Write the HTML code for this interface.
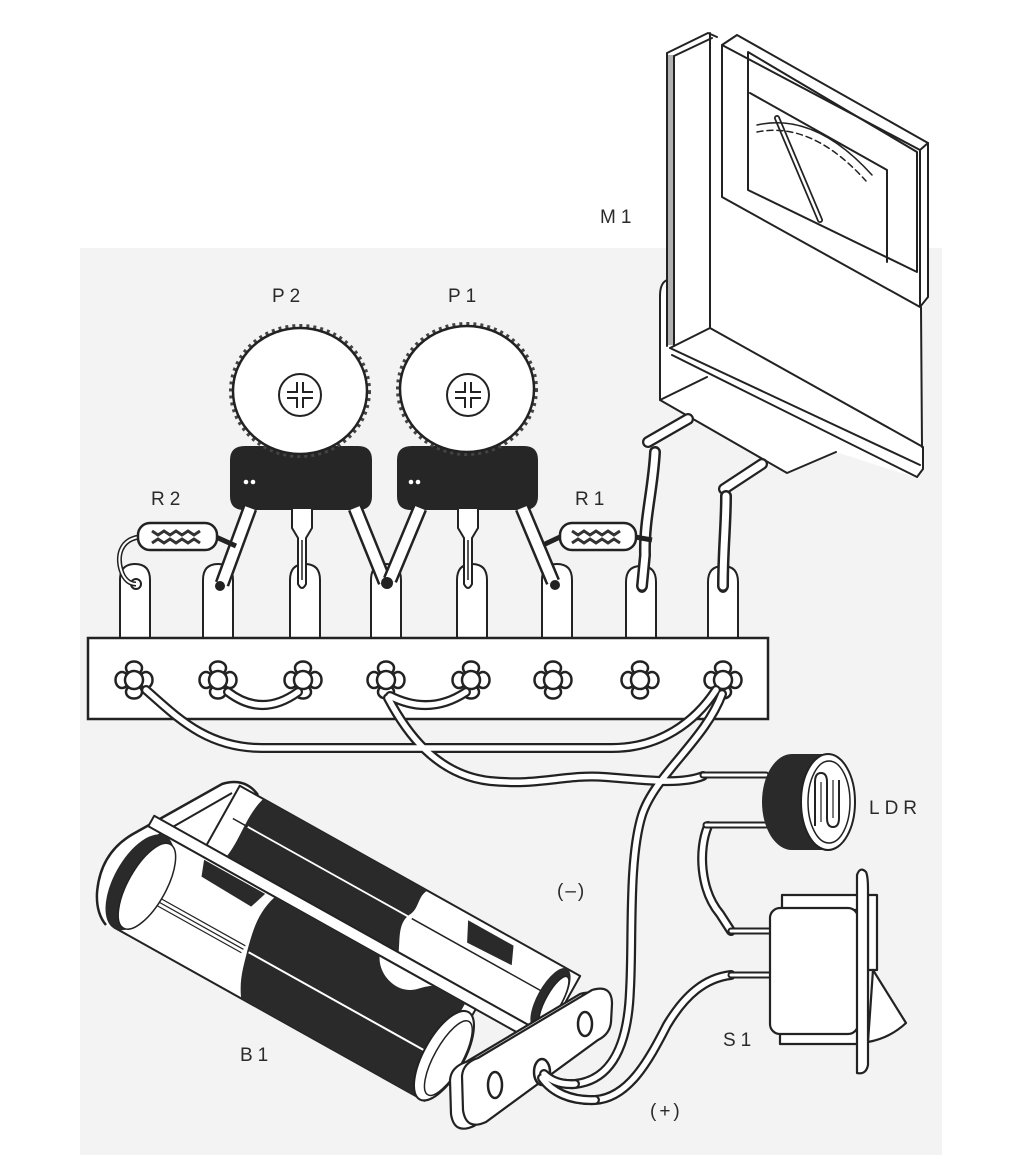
<!DOCTYPE html>
<html><head><meta charset="utf-8"><title>diagram</title>
<style>
html,body{margin:0;padding:0;background:#fff;width:1011px;height:1155px;overflow:hidden}
svg{display:block}
.lb{font-family:"Liberation Sans",sans-serif;font-size:19px;fill:#2a2a2a;letter-spacing:5px}
</style></head><body>
<svg width="1011" height="1155" viewBox="0 0 1011 1155" xmlns="http://www.w3.org/2000/svg">
<defs>
 <g id="term">
  <ellipse cx="0" cy="-12" rx="8" ry="6.5"/>
  <ellipse cx="0" cy="12" rx="8" ry="6.5"/>
  <ellipse cx="-12" cy="0" rx="6.5" ry="8"/>
  <ellipse cx="12" cy="0" rx="6.5" ry="8"/>
  <circle r="9"/>
 </g>
</defs>
<rect width="1011" height="1155" fill="#fff"/>
<rect x="80" y="248" width="862" height="907" fill="#f3f3f3"/>

<!-- METER M1 -->
<g stroke="#222" stroke-width="2" fill="none" stroke-linejoin="round" stroke-linecap="round">
 <path d="M667 53 L708 33 L737 35 L928 143 L928 300 L922 308 L923 470 L917 478 L836 452 L787 473 L660 400 L660 290 L667 280 Z" fill="#fff" stroke="none"/>
 <rect x="667" y="55" width="7" height="290" fill="#b0b0b0" stroke="none"/>
 <path d="M667 53 L667 346 M674 56 L674 346 M667 53 L708 33 L717 37 M674 56 L712 38 M710 33 L710 327"/>
 <path d="M722 45 L737 35 L928 143 L920 150 Z" fill="#fff"/>
 <path d="M722 45 L722 197 L920 307 L920 150 M928 143 L928 297 L920 307"/>
 <path d="M921 307 L922 447"/>
 <path d="M748 52 L917 152 L917 272 L748 190 Z"/>
 <path d="M750 93 L887 170 L887 262"/>
 <path d="M777 118 L820 220" stroke-width="6"/>
 <path d="M777 118 L820 220" stroke="#fff" stroke-width="2.5"/>
 <path d="M757 125 Q815 112 872 175" stroke-width="1.5"/>
 <path d="M757 132 Q812 121 866 181" stroke-width="1.5" stroke-dasharray="6 4"/>
 <path d="M670 348 L710 328 L923 447 L923 469 L917 477 M670 348 L920 465 M672 355 L917 477"/>
 <path d="M667 280 Q660 283 660 296 L660 400 L787 473 L836 452 M660 400 L707 377"/>
</g>
<!-- meter pins -->
<g fill="none" stroke-linecap="round">
 <path d="M648 442 L688 419" stroke="#222" stroke-width="12"/>
 <path d="M648 442 L688 419" stroke="#fff" stroke-width="7.5"/>
 <path d="M724 489 L762 464" stroke="#222" stroke-width="12"/>
 <path d="M724 489 L762 464" stroke="#fff" stroke-width="7.5"/>
</g>

<!-- LUGS -->
<g stroke="#222" stroke-width="2" fill="#fff">
 <path d="M120 640 L120 580 Q120 564 135 564 Q150 564 150 580 L150 640"/>
 <path d="M203 640 L203 580 Q203 564 218 564 Q233 564 233 580 L233 640"/>
 <path d="M290 640 L290 580 Q290 564 305 564 Q320 564 320 580 L320 640"/>
 <path d="M371 640 L371 580 Q371 564 386 564 Q401 564 401 580 L401 640"/>
 <path d="M457 640 L457 580 Q457 564 472 564 Q487 564 487 580 L487 640"/>
 <path d="M542 640 L542 580 Q542 564 557 564 Q572 564 572 580 L572 640"/>
 <path d="M626 640 L626 582 Q626 566 641 566 Q656 566 656 582 L656 640"/>
 <path d="M708 640 L708 582 Q708 566 723 566 Q738 566 738 582 L738 640"/>
</g>
<circle cx="136" cy="584" r="5" fill="#fff" stroke="#222" stroke-width="2"/>
<circle cx="642" cy="588" r="5" fill="#222"/>
<circle cx="723" cy="588" r="5" fill="#222"/>

<!-- meter wires -->
<g fill="none" stroke-linecap="round">
 <path d="M655 452 C653 490 644 520 645 555 L642 586" stroke="#222" stroke-width="12"/>
 <path d="M655 452 C653 490 644 520 645 555 L642 586" stroke="#fff" stroke-width="7"/>
 <path d="M726 496 C726 525 723 550 723 586" stroke="#222" stroke-width="12"/>
 <path d="M726 496 C726 525 723 550 723 586" stroke="#fff" stroke-width="7"/>
</g>

<!-- POT P2 -->
<path d="M230 460 Q230 446 245 446 L358 446 Q372 446 372 460 L372 496 Q372 510 358 510 L244 510 Q230 510 230 496 Z" fill="#262626"/>
<ellipse cx="300" cy="391" rx="69" ry="65" fill="none" stroke="#444" stroke-width="4" stroke-dasharray="3 4"/>
<ellipse cx="300" cy="391" rx="67" ry="63" fill="#fff" stroke="#222" stroke-width="2.5"/>
<circle cx="246" cy="482" r="2.3" fill="#fff"/><circle cx="253" cy="482" r="2.3" fill="#fff"/>
<!-- POT P1 -->
<path d="M397 460 Q397 446 412 446 L524 446 Q538 446 538 460 L538 496 Q538 510 524 510 L411 510 Q397 510 397 496 Z" fill="#262626"/>
<ellipse cx="467" cy="389" rx="69" ry="65" fill="none" stroke="#444" stroke-width="4" stroke-dasharray="3 4"/>
<ellipse cx="467" cy="389" rx="67" ry="63" fill="#fff" stroke="#222" stroke-width="2.5"/>
<circle cx="411" cy="482" r="2.3" fill="#fff"/><circle cx="418" cy="482" r="2.3" fill="#fff"/>
<!-- screws -->
<g fill="none" stroke="#222" stroke-width="2">
 <circle cx="300" cy="395" r="21"/>
 <path d="M297 382 L297 392 L287 392 M303 382 L303 392 L313 392 M297 408 L297 398 L287 398 M303 408 L303 398 L313 398"/>
 <circle cx="468" cy="395" r="21"/>
 <path d="M465 382 L465 392 L455 392 M471 382 L471 392 L481 392 M465 408 L465 398 L455 398 M471 408 L471 398 L481 398"/>
</g>

<!-- pot legs -->
<g fill="none" stroke-linecap="butt">
 <path d="M250 508 L222 584" stroke="#222" stroke-width="15"/>
 <path d="M250 508 L222 584" stroke="#fff" stroke-width="10"/>
 <path d="M355 508 L385 582" stroke="#222" stroke-width="15"/>
 <path d="M355 508 L385 582" stroke="#fff" stroke-width="10"/>
 <path d="M420 508 L390 580" stroke="#222" stroke-width="15"/>
 <path d="M420 508 L390 580" stroke="#fff" stroke-width="10"/>
 <path d="M522 508 L553 582" stroke="#222" stroke-width="15"/>
 <path d="M522 508 L553 582" stroke="#fff" stroke-width="10"/>
</g>
<g fill="#fff" stroke="#222" stroke-width="2">
 <path d="M292 509 L292 528 L298 538 L298 584 Q302 592 306 584 L306 538 L312 528 L312 509"/>
 <path d="M458 509 L458 528 L464 538 L464 584 Q468 592 472 584 L472 538 L478 528 L478 509"/>
</g>
<g stroke="#222" stroke-width="1.5"><path d="M302 540 L302 580 M468 540 L468 580"/></g>
<circle cx="220" cy="586" r="5" fill="#222"/>
<circle cx="387" cy="583" r="6" fill="#222"/>
<circle cx="555" cy="585" r="5" fill="#222"/>

<!-- RESISTORS -->
<g fill="none" stroke="#222">
 <path d="M139 537 C120 540 117 556 121 570 C124 580 130 584 136 584" stroke-width="5"/>
 <path d="M139 537 C120 540 117 556 121 570 C124 580 130 584 136 584" stroke="#fff" stroke-width="2"/>
 <path d="M216 537 L236 546" stroke-width="5"/>
 <path d="M560 537 L543 545" stroke-width="5"/>
 <path d="M635 537 L652 540" stroke-width="5"/>
</g>
<rect x="138" y="523" width="79" height="27" rx="12" fill="#fff" stroke="#222" stroke-width="2.5"/>
<path d="M152 531 l6 4 l6 -4 l6 4 l6 -4 l6 4 l6 -4 l6 4 l6 -4 M152 543 l6 -4 l6 4 l6 -4 l6 4 l6 -4 l6 4 l6 -4 l6 4" fill="none" stroke="#333" stroke-width="3"/>
<rect x="560" y="523" width="76" height="27" rx="12" fill="#fff" stroke="#222" stroke-width="2.5"/>
<path d="M572 531 l6 4 l6 -4 l6 4 l6 -4 l6 4 l6 -4 l6 4 l6 -4 M572 543 l6 -4 l6 4 l6 -4 l6 4 l6 -4 l6 4 l6 -4 l6 4" fill="none" stroke="#333" stroke-width="3"/>

<!-- TERMINAL STRIP -->
<rect x="88" y="638" width="680" height="81" fill="#fff" stroke="#222" stroke-width="2.5"/>
<g fill="#fff" stroke="#222" stroke-width="2.5">
 <use href="#term" x="134" y="680"/>
 <use href="#term" x="218" y="680"/>
 <use href="#term" x="303" y="680"/>
 <use href="#term" x="386" y="680"/>
 <use href="#term" x="471" y="680"/>
 <use href="#term" x="553" y="680"/>
 <use href="#term" x="640" y="680"/>
 <use href="#term" x="723" y="680"/>
</g>

<!-- WIRES -->
<g fill="none" stroke-linecap="round" stroke-linejoin="round">
 <g stroke="#222" stroke-width="10">
  <path d="M146 690 C175 715 205 748 262 748 L612 748 C660 748 695 722 716 690"/>
  <path d="M228 692 Q262 718 298 692"/>
  <path d="M390 696 Q430 716 466 692"/>
  <path d="M388 698 C405 730 435 775 490 781 C540 786 565 774 605 777 C645 780 680 785 703 776"/>
  <path d="M722 694 C705 740 655 775 642 815 C628 860 633 940 630 990 C628 1045 612 1080 575 1084 C560 1085 550 1080 544 1074"/>
  <path d="M731 975 C705 978 685 995 667 1025 C648 1062 628 1098 595 1100 C570 1101 552 1092 542 1078"/>
  <path d="M708 826 C698 850 700 890 720 914 L731 931"/>
 </g>
 <g stroke="#fff" stroke-width="5.5">
  <path d="M146 690 C175 715 205 748 262 748 L612 748 C660 748 695 722 716 690"/>
  <path d="M228 692 Q262 718 298 692"/>
  <path d="M390 696 Q430 716 466 692"/>
  <path d="M388 698 C405 730 435 775 490 781 C540 786 565 774 605 777 C645 780 680 785 703 776"/>
  <path d="M722 694 C705 740 655 775 642 815 C628 860 633 940 630 990 C628 1045 612 1080 575 1084 C560 1085 550 1080 544 1074"/>
  <path d="M731 975 C705 978 685 995 667 1025 C648 1062 628 1098 595 1100 C570 1101 552 1092 542 1078"/>
  <path d="M708 826 C698 850 700 890 720 914 L731 931"/>
 </g>
 <g stroke="#222" stroke-width="7">
  <path d="M703 775 L766 775 M706 825 L766 825 M731 931 L772 931 M731 975 L772 975"/>
 </g>
 <g stroke="#fff" stroke-width="3">
  <path d="M703 775 L766 775 M706 825 L766 825 M731 931 L772 931 M731 975 L772 975"/>
 </g>
</g>

<!-- LDR -->
<ellipse cx="792" cy="802" rx="30" ry="48" fill="#2a2a2a"/>
<rect x="792" y="754" width="36" height="96" fill="#2a2a2a"/>
<ellipse cx="828" cy="802" rx="27" ry="48" fill="#fff" stroke="#222" stroke-width="2"/>
<ellipse cx="829" cy="802" rx="21" ry="41" fill="none" stroke="#222" stroke-width="1.5"/>
<path d="M815 826 L815 782 Q815 773 821 773 Q827 773 827 782 L827 818 Q827 827 833 827 Q839 827 839 818 L839 780" fill="none" stroke="#222" stroke-width="2"/>
<path d="M821 782 L821 822 M833 780 L833 818" fill="none" stroke="#222" stroke-width="1.2"/>

<!-- S1 -->
<g fill="#fff" stroke="#222" stroke-width="2.2" stroke-linejoin="round">
 <rect x="782" y="895" width="76" height="15"/>
 <rect x="780" y="1031" width="78" height="13"/>
 <rect x="770" y="908" width="88" height="126" rx="10"/>
 <rect x="868" y="895" width="9" height="75"/>
 <path d="M873 970 L906 1023 Q890 1038 868 1042 Z"/>
 <path d="M857 1073 L857 875 Q860 866 866 872 Q868 876 868 890 L868 1065 Q866 1075 857 1073 Z"/>
</g>

<!-- BATTERY HOLDER B1 -->
<path d="M258 795 Q245 777 222 784 L133 834 Q100 853 97 893 Q96 913 106 925 L180 960 L260 820 Z" fill="#fff"/>
<path d="M258 795 Q245 777 222 784 L133 834 Q100 853 97 893 Q96 913 106 925" fill="none" stroke="#222" stroke-width="2.5"/>
<path d="M232 793 L150 840 Q116 862 112 905 Q111 915 116 922" fill="none" stroke="#222" stroke-width="2"/>
<g transform="translate(176 828) rotate(29.2)" stroke-linejoin="round">
 <rect x="35" y="-68" width="390" height="68" fill="#fff" stroke="#222" stroke-width="2"/>
 <path d="M62 -68 L250 -68 C244 -58 252 -48 246 -38 C240 -25 250 -12 255 0 L58 0 C62 -20 55 -45 62 -68 Z" fill="#2a2a2a"/>
 <path d="M300 -62 L352 -62 L360 -44 L310 -42 Z" fill="#2a2a2a"/>
 <path d="M45 -36 L62 -36 M250 -36 L400 -36" stroke="#222" stroke-width="1.5"/>
 <path d="M62 -36 L248 -36" stroke="#fff" stroke-width="1.8"/>
 <ellipse cx="410" cy="-34" rx="13" ry="34" fill="#2a2a2a"/>
 <ellipse cx="414" cy="-34" rx="8" ry="27" fill="#fff" stroke="#222" stroke-width="1.5"/>
 <rect x="-25" y="0" width="430" height="12" fill="#fff" stroke="#222" stroke-width="2"/>
 <rect x="-5" y="12" width="355" height="105" fill="#fff" stroke="#222" stroke-width="2"/>
 <path d="M120 12 L240 12 C248 30 275 38 290 22 C296 16 300 12 305 12 L338 12 L338 117 L140 117 C128 100 126 85 122 72 C118 55 112 35 120 12 Z" fill="#2a2a2a"/>
 <path d="M40 14 L110 14 L104 32 L46 30 Z" fill="#2a2a2a"/>
 <path d="M8 69 L118 69 M8 73 L118 73 M8 77 L118 77" stroke="#222" stroke-width="1.2"/>
 <path d="M124 73 L336 73" stroke="#fff" stroke-width="2"/>
 <ellipse cx="-5" cy="65" rx="26" ry="53" fill="#2a2a2a"/>
 <ellipse cx="3" cy="65" rx="19" ry="48" fill="#fff" stroke="#222" stroke-width="1.5"/>
 <ellipse cx="345" cy="68" rx="20" ry="50" fill="#fff" stroke="#222" stroke-width="2"/>
 <ellipse cx="350" cy="68" rx="14" ry="42" fill="none" stroke="#222" stroke-width="1.5"/>
</g>
<path transform="translate(-12 4)" d="M478 1058 L592 990 Q612 984 612 1004 L611 1022 Q610 1034 598 1040 L486 1122 Q466 1131 463 1110 L462 1076 Q463 1063 478 1058 Z" fill="#fff" stroke="#222" stroke-width="2.2"/>
<path d="M478 1058 L592 990 Q612 984 612 1004 L611 1022 Q610 1034 598 1040 L486 1122 Q466 1131 463 1110 L462 1076 Q463 1063 478 1058 Z" fill="#fff" stroke="#222" stroke-width="2.2"/>
<g fill="#fff" stroke="#222" stroke-width="2.5">
 <ellipse cx="495" cy="1085" rx="7" ry="13"/>
 <ellipse cx="585" cy="1024" rx="7" ry="12"/>
 <ellipse cx="542" cy="1072" rx="8" ry="13"/>
</g>
<path d="M544 1074 C550 1080 560 1085 575 1084 M542 1078 C552 1092 570 1101 595 1100" fill="none" stroke="#222" stroke-width="10" stroke-linecap="round"/>
<path d="M544 1074 C550 1080 560 1085 575 1084 M542 1078 C552 1092 570 1101 595 1100" fill="none" stroke="#fff" stroke-width="5.5" stroke-linecap="round"/>

<!-- LABELS -->
<text class="lb" x="272" y="302">P2</text>
<text class="lb" x="448" y="302">P1</text>
<text class="lb" x="151" y="505">R2</text>
<text class="lb" x="575" y="505">R1</text>
<text class="lb" x="600" y="223">M1</text>
<text class="lb" x="869" y="814">LDR</text>
<text class="lb" x="723" y="1046">S1</text>
<text class="lb" x="240" y="1061">B1</text>
<text class="lb" x="557" y="897" style="letter-spacing:2px">(–)</text>
<text class="lb" x="650" y="1117" style="letter-spacing:3px">(+)</text>
</svg>
</body></html>
